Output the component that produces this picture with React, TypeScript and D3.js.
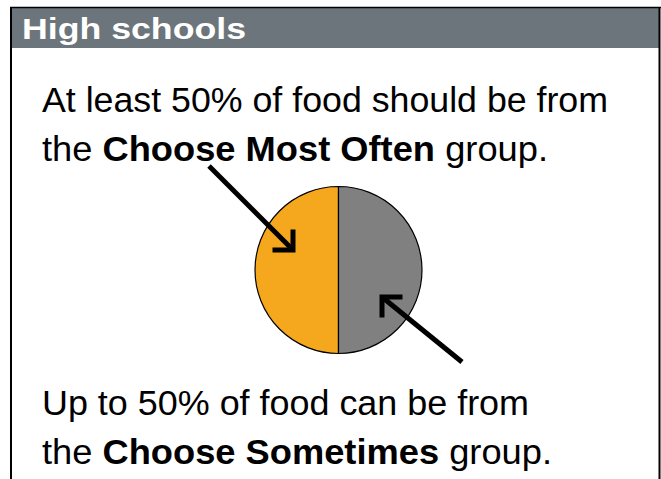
import React from "react";
import * as d3 from "d3";

const title = "High schools";
const categories = ["Choose Most Often", "Choose Sometimes"];
const values = [50, 50];
const colors = ["#F5A81E", "#808080"];
const topLines = [
  [{ t: "At least 50% of food should be from", b: false }],
  [{ t: "the ", b: false }, { t: "Choose Most Often", b: true }, { t: " group.", b: false }],
];
const bottomLines = [
  [{ t: "Up to 50% of food can be from", b: false }],
  [{ t: "the ", b: false }, { t: "Choose Sometimes", b: true }, { t: " group.", b: false }],
];
const topLengths = [566, 506];
const bottomLengths = [487, 510];

export default function App() {
  const W = 661, H = 479;
  const cx = 338.5, cy = 270, r = 83.5;
  // Start at PI so the first slice (orange) sits on the left half.
  const arcs = d3.pie<number>().sort(null).startAngle(Math.PI).endAngle(3 * Math.PI)(values);
  const arc = d3.arc<d3.PieArcDatum<number>>().innerRadius(0).outerRadius(r);
  const font = "'Liberation Sans', Arial, sans-serif";
  const fs = 35.5;
  const renderLine = (parts: { t: string; b: boolean }[], x: number, y: number, len: number, k: number) => (
    <text key={k} x={x} y={y} fontFamily={font} fontSize={fs} fill="#000" xmlSpace="preserve"
      textLength={len} lengthAdjust="spacingAndGlyphs">
      {parts.map((p, i) => (
        <tspan key={i} fontWeight={p.b ? "bold" : "normal"}>{p.t}</tspan>
      ))}
    </text>
  );
  const arrow = (x1: number, y1: number, x2: number, y2: number, dir: number) => {
    const L = 18;
    return (
      <g>
        <line x1={x1} y1={y1} x2={x2} y2={y2} stroke="#000" strokeWidth={5} />
        <polyline
          points={`${x2 - dir * L},${y2} ${x2},${y2} ${x2},${y2 - dir * L}`}
          fill="none" stroke="#000" strokeWidth={5} strokeLinecap="square"
        />
      </g>
    );
  };
  return (
    <svg width={W} height={H} style={{ position: "absolute", left: 0, top: 0 }}>
      <rect x={0} y={0} width={W} height={H} fill="#fff" />
      <rect x={10} y={8} width={W - 11} height={40} fill="#6C757B" />
      <line x1={11} y1={7} x2={11} y2={H} stroke="#000" strokeWidth={2} />
      <line x1={10} y1={7.5} x2={W} y2={7.5} stroke="#000" strokeWidth={1.5} />
      <line x1={W - 1.5} y1={7} x2={W - 1.5} y2={H} stroke="#000" strokeWidth={2} />
      <text x={22} y={39} fontFamily={font} fontSize={30} fontWeight="bold" fill="#fff"
        textLength={224} lengthAdjust="spacingAndGlyphs">{title}</text>
      {topLines.map((l, i) => renderLine(l, 42, 112 + i * 49, topLengths[i], i))}
      {bottomLines.map((l, i) => renderLine(l, 42, 415 + i * 49, bottomLengths[i], i + 10))}
      <g transform={`translate(${cx},${cy})`}>
        {arcs.map((a, i) => (
          <path key={categories[i]} d={arc(a) || ""} fill={colors[i]} stroke="#000" strokeWidth={1.2} />
        ))}
      </g>
      {arrow(209, 166, 293, 250, 1)}
      {arrow(462, 362, 382, 297, -1)}
    </svg>
  );
}
